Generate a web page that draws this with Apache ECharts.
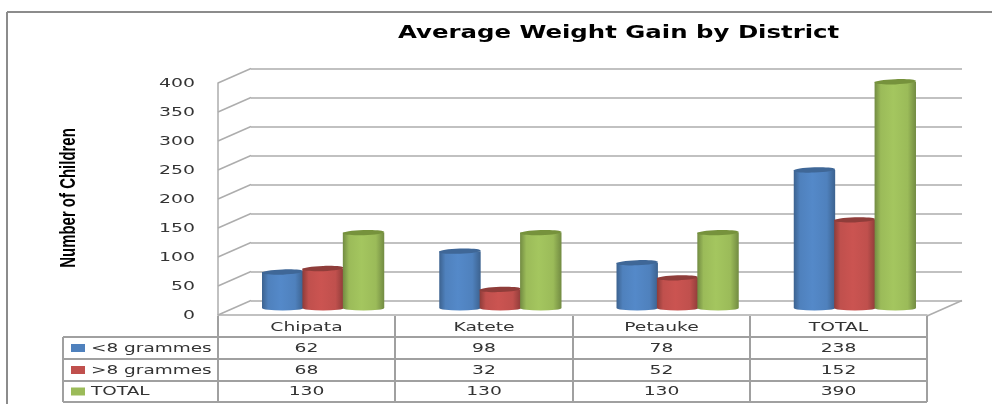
<!DOCTYPE html>
<html>
<head>
<meta charset="utf-8">
<title>Average Weight Gain by District</title>
<script src="https://cdn.jsdelivr.net/npm/echarts@6/dist/echarts.min.js"></script>
<style>
  html, body { margin: 0; padding: 0; background: #fff; }
  #chart { width: 992px; height: 404px; }
</style>
</head>
<body>
<div id="chart"></div>
<script>
  let districts = ['Chipata', 'Katete', 'Petauke', 'TOTAL']
  let under8 = [62, 98, 78, 238]
  let over8 = [68, 32, 52, 152]
  let totals = [130, 130, 130, 390]
  let rowNames = ['<8 grammes', '>8 grammes', 'TOTAL']
  let yTicks = [0, 50, 100, 150, 200, 250, 300, 350, 400]

  let lineColor = '#adadad'
  let tableColor = '#a0a0a0'
  let textColor = '#333'
  let font = 'DejaVu Sans'
  let colors = [
    { key: '#4f81bd', edge: '#3c628f', mid: '#5489c9', top: '#3f6797' },
    { key: '#c0504d', edge: '#8e3c39', mid: '#cb5451', top: '#8f3d3a' },
    { key: '#9bbb59', edge: '#728b42', mid: '#a4c65f', top: '#76923c' }
  ]

  // front plane holds the labels, back plane the grid lines, bars stand in between
  let grids = [
    { left: 251, top: 68.5, width: 711, height: 232 },
    { left: 218, top: 83, width: 709, height: 232 },
    { left: 234.5, top: 76, width: 709, height: 232 }
  ]

  function cylinder (offset, color) {
    return function (params, api) {
      let top = api.coord([api.value(0), api.value(1)])
      let base = api.coord([api.value(0), 0])
      let band = api.size([1, 0])[0]
      let w = band * 0.228
      let cx = top[0] + offset * w
      let rx = w / 2 + 0.5
      let ry = 2.6
      return {
        type: 'group',
        children: [{
          type: 'path',
          shape: {
            pathData: 'M' + (cx - rx) + ' ' + top[1] + 'L' + (cx - rx) + ' ' + base[1] +
              'A' + rx + ' ' + ry + ' 0 0 0 ' + (cx + rx) + ' ' + base[1] +
              'L' + (cx + rx) + ' ' + top[1] + 'Z'
          },
          style: {
            fill: new echarts.graphic.LinearGradient(0, 0, 1, 0, [
              { offset: 0, color: color.edge },
              { offset: 0.15, color: color.key },
              { offset: 0.45, color: color.mid },
              { offset: 0.8, color: color.key },
              { offset: 1, color: color.edge }
            ])
          }
        }, {
          type: 'ellipse',
          originX: cx,
          originY: top[1],
          rotation: 0.035,
          shape: { cx: cx, cy: top[1], rx: rx, ry: ry },
          style: { fill: color.top }
        }]
      }
    }
  }

  function barSeries (name, values, offset, color) {
    return {
      name: name,
      type: 'custom',
      xAxisIndex: 2,
      yAxisIndex: 2,
      z: 5,
      renderItem: cylinder(offset, color),
      encode: { x: 0, y: 1 },
      data: values.map(function (v, i) { return [i, v] })
    }
  }

  function stretched (text, x, y, scaleX, align, extra) {
    return {
      type: 'text',
      x: x,
      y: y,
      scaleX: scaleX,
      z: 6,
      style: Object.assign({
        text: text,
        align: align,
        verticalAlign: 'middle',
        fill: textColor,
        font: '13px "' + font + '"'
      }, extra || {})
    }
  }

  function hline (x1, x2, y, color) {
    return { type: 'line', z: 4, shape: { x1: x1, y1: y, x2: x2, y2: y }, style: { stroke: color, lineWidth: 2 } }
  }

  function vline (x, y1, y2, color) {
    return { type: 'line', z: 4, shape: { x1: x, y1: y1, x2: x, y2: y2 }, style: { stroke: color, lineWidth: 2 } }
  }

  // data table under the chart
  let colX = [218, 395, 573, 750, 927]
  let rowY = [316, 337, 359, 381, 402]
  let rowValues = [under8, over8, totals]
  let tableItems = []
  colX.forEach(function (x) { tableItems.push(vline(x, rowY[0], rowY[4], tableColor)) })
  tableItems.push(vline(63, rowY[1], rowY[4], tableColor))
  rowY.slice(1).forEach(function (y) { tableItems.push(hline(63, 927, y, tableColor)) })
  districts.forEach(function (d, c) {
    let cx = (colX[c] + colX[c + 1]) / 2
    tableItems.push(stretched(d, cx, 328, 1.44, 'center'))
    rowValues.forEach(function (vals, r) {
      tableItems.push(stretched(String(vals[c]), cx, (rowY[r + 1] + rowY[r + 2]) / 2 + 0.5, 1.44, 'center'))
    })
  })
  rowNames.forEach(function (n, r) {
    let cy = (rowY[r + 1] + rowY[r + 2]) / 2
    tableItems.push({ type: 'rect', z: 6, shape: { x: 71, y: cy - 4, width: 14, height: 8 }, style: { fill: colors[r].key } })
    tableItems.push(stretched(n, 91, cy + 0.5, 1.42, 'left'))
  })

  let chart = echarts.init(document.getElementById('chart'))
  chart.setOption({
    animation: false,
    backgroundColor: '#fff',
    grid: grids,
    xAxis: [
      { gridIndex: 0, type: 'category', data: districts, show: false },
      { gridIndex: 1, type: 'category', data: districts, axisTick: { show: false }, axisLabel: { show: false }, axisLine: { lineStyle: { color: lineColor, width: 1.5 } } },
      { gridIndex: 2, type: 'category', data: districts, show: false }
    ],
    yAxis: [
      { gridIndex: 0, type: 'value', min: 0, max: 400, interval: 50, axisLine: { show: false }, axisTick: { show: false }, axisLabel: { show: false }, splitLine: { lineStyle: { color: lineColor, width: 1.5 } } },
      { gridIndex: 1, type: 'value', min: 0, max: 400, interval: 50, axisLine: { show: true, lineStyle: { color: lineColor, width: 1.5 } }, axisTick: { show: false }, axisLabel: { show: false }, splitLine: { show: false } },
      { gridIndex: 2, type: 'value', min: 0, max: 400, interval: 50, show: false }
    ],
    graphic: [
      { type: 'group', children: tableItems },
      // outer frame
      hline(7, 992, 12, '#8c8c8c'),
      vline(7, 12, 404, '#8c8c8c'),
      // floor edge on the right
      { type: 'line', z: 3, shape: { x1: 927, y1: 316, x2: 962, y2: 300.5 }, style: { stroke: lineColor, lineWidth: 1.5 } },
      stretched('Average Weight Gain by District', 398, 33, 1.355, 'left', { fill: '#000', font: 'bold 18px "' + font + '"' }),
      {
        type: 'text',
        x: 69,
        y: 198,
        rotation: Math.PI / 2,
        scaleX: 0.68,
        z: 6,
        style: { text: 'Number of Children', align: 'center', verticalAlign: 'middle', fill: '#000', font: 'bold 22px "Liberation Sans"' }
      }
    ],
    series: [
      {
        // side wall diagonals and the y tick labels
        name: 'wall',
        type: 'custom',
        xAxisIndex: 1,
        yAxisIndex: 1,
        z: 2,
        renderItem: function (params, api) {
          let p = api.coord([0, api.value(0)])
          let x = grids[1].left
          return {
            type: 'group',
            children: [{
              type: 'line',
              shape: { x1: x, y1: p[1], x2: grids[0].left, y2: p[1] - 14.5 },
              style: { stroke: lineColor, lineWidth: 1.5 }
            }, stretched(String(api.value(0)), x - 23, p[1] + 1, 1.45, 'right', { font: '13px "' + font + '"' })]
          }
        },
        encode: { y: 0 },
        data: yTicks.map(function (t) { return [t] })
      },
      barSeries(rowNames[0], under8, -1, colors[0]),
      barSeries(rowNames[1], over8, 0, colors[1]),
      barSeries(rowNames[2], totals, 1, colors[2])
    ]
  })
</script>
</body>
</html>
